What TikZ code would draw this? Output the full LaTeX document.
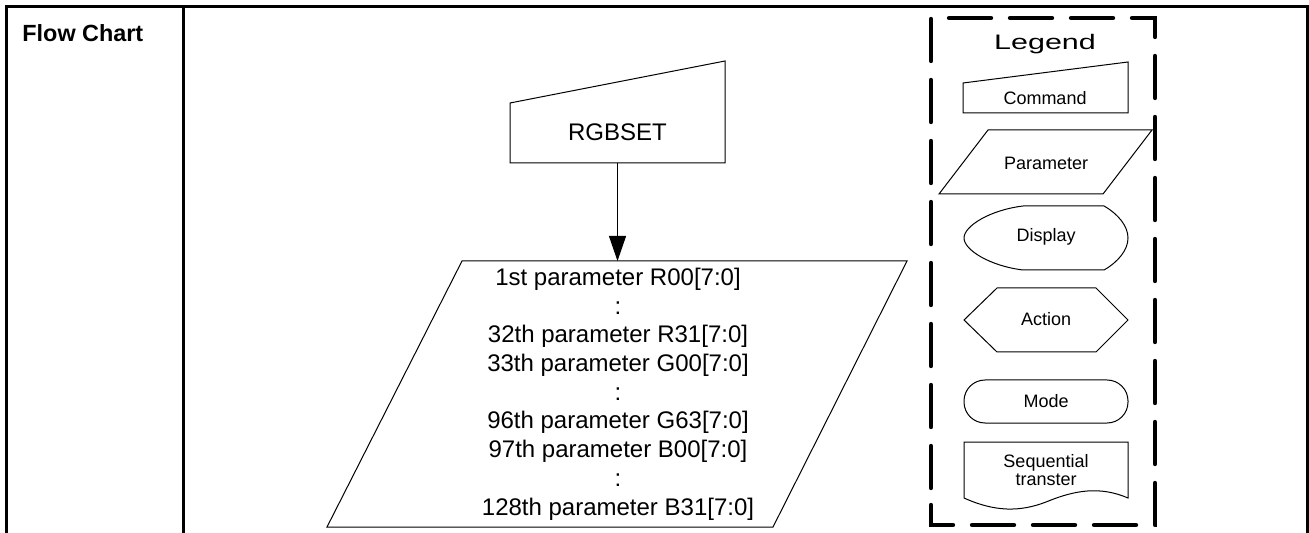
\documentclass[tikz,border=0pt]{standalone}
\usepackage{fontspec}
\setmainfont{Liberation Sans}
\usetikzlibrary{arrows.meta}
\tikzset{
  tblline/.style={line width=1.5pt},
  shapeline/.style={line width=0.5pt},
  legendbox/.style={line width=2.2pt, dash pattern=on 21pt off 9.5pt, line cap=round},
  bigtext/.style={font=\fontsize{12}{14.35}\selectfont, align=center, inner sep=0pt},
  smalltext/.style={font=\fontsize{9}{7.4}\selectfont, align=center, inner sep=0pt},
}
\begin{document}
\begin{tikzpicture}[x=0.5pt,y=-0.5pt]
\useasboundingbox (0,0) rectangle (1309,533);
\draw[tblline] (6,533) -- (6,7) -- (1307,7) -- (1307,533);
\draw[tblline] (183,7) -- (183,533);
\node[anchor=west, inner sep=0pt, font=\fontsize{11.7}{14}\selectfont\bfseries] (title) at (22,33) {Flow Chart};
\draw[shapeline] (510,163) -- (510,103) -- (725,61) -- (725,163) -- cycle;
\node[bigtext] (rgbset) at (617.5,132) {RGBSET};
\coordinate (cmdout) at (617.5,163);
\draw[shapeline] (327,527) -- (462,261) -- (907,261) -- (773,527) -- cycle;
\coordinate (parmin) at (617.5,261);
\node[bigtext] (params) at (618,394) {1st parameter R00[7:0]\\:\\32th parameter R31[7:0]\\33th parameter G00[7:0]\\:\\96th parameter G63[7:0]\\97th parameter B00[7:0]\\:\\128th parameter B31[7:0]};
\draw[shapeline, -{Triangle[length=12.5pt,width=8.5pt]}] (cmdout) -- (parmin);
\draw[legendbox] (931,505) -- (931,525) -- (1155,525) -- (1155,18) -- (931,18) -- cycle;
\node[inner sep=0pt, font=\fontsize{10.5}{12}\selectfont] (legend) at (1045,44) {\scalebox{1.45}[1]{Legend}};
\draw[shapeline] (963,113) -- (963,83) -- (1128,62) -- (1128,113) -- cycle;
\node[smalltext] (cmdkey) at (1045,98) {Command};
\draw[shapeline] (939,194) -- (988,130) -- (1152,130) -- (1103,194) -- cycle;
\node[smalltext] (parkey) at (1046,163) {Parameter};
\draw[shapeline] (1023,206) -- (1104,206) .. controls (1118,214) and (1128,226) .. (1128,238) .. controls (1128,250) and (1118,262) .. (1104,270) -- (1023,270) .. controls (990,266) and (964,250) .. (964,238) .. controls (964,226) and (990,210) .. (1023,206);
\node[smalltext] (dispkey) at (1046,237) {Display};
\draw[shapeline] (964,320) -- (997,288) -- (1096,288) -- (1128,320) -- (1096,352) -- (997,352) -- cycle;
\node[smalltext] (actkey) at (1046,319) {Action};
\draw[shapeline, rounded corners=10.5pt] (964,380) rectangle (1128,423);
\node[smalltext] (modekey) at (1046,401) {Mode};
\draw[shapeline] (964,498) -- (964,442) -- (1128,442) -- (1128,498) .. controls (1100,486) and (1075,490) .. (1046,502) .. controls (1020,512) and (995,512) .. (964,498);
\node[smalltext] (seqkey) at (1046,470) {Sequential\\transter};
\end{tikzpicture}
\end{document}
